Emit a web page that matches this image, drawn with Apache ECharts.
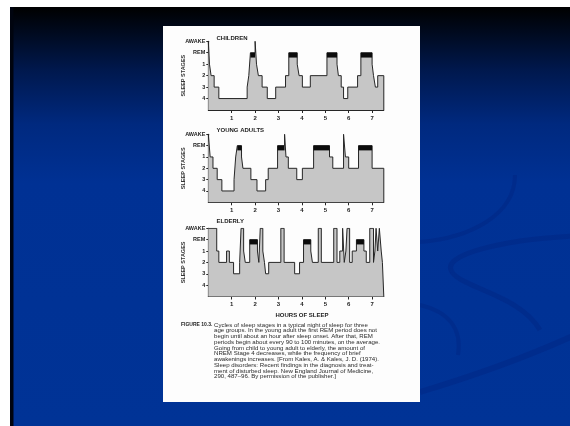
<!DOCTYPE html>
<html>
<head>
<meta charset="utf-8">
<script src="https://cdn.jsdelivr.net/npm/echarts@6/dist/echarts.min.js"></script>
<style>
html,body{margin:0;padding:0;background:#fff;}
#chart{width:570px;height:426px;}
</style>
</head>
<body>
<div id="chart"></div>
<script>
// ---- data ----
const stageLabels = ['AWAKE', 'REM', '1', '2', '3', '4'];
const xTickLabels = ['1', '2', '3', '4', '5', '6', '7'];
const hoursMax = 7.5;
const panelTitles = ['CHILDREN', 'YOUNG ADULTS', 'ELDERLY'];
const yAxisTitle = 'SLEEP STAGES';
const xAxisTitle = 'HOURS OF SLEEP';

const childrenTimes  = [0, 0.05, 0.12, 0.25, 0.45, 1.66, 1.73, 1.8, 2.0, 2.06, 2.14, 2.3, 2.52, 2.88, 3.3, 3.44, 3.8, 3.88, 4.02, 4.36, 5.07, 5.5, 5.56, 5.68, 5.78, 5.96, 6.38, 6.52, 7.0, 7.06, 7.14, 7.24];
const childrenStages = ['AWAKE', '1', '2', '3', '4', '3', '2', 'REM', 'AWAKE', '1', '2', '3', '4', '3', '2', 'REM', '1', '2', '3', '2', 'REM', '1', '2', '3', '4', '3', '2', 'REM', '1', '2', '3', '2'];

const youngTimes  = [0, 0.08, 0.2, 0.38, 0.58, 1.1, 1.17, 1.24, 1.42, 1.48, 1.82, 2.08, 2.45, 2.56, 2.96, 3.26, 3.32, 3.42, 3.78, 4.02, 4.5, 5.18, 5.32, 5.78, 5.86, 6.0, 6.42, 7.0];
const youngStages = ['AWAKE', '1', '2', '3', '4', '3', '1', 'REM', '1', '2', '3', '4', '3', '2', 'REM', 'AWAKE', '1', '2', '3', '2', 'REM', '1', '2', 'AWAKE', '1', '2', 'REM', '2'];

const elderlyTimes  = [0, 0.36, 0.45, 0.78, 0.9, 1.08, 1.34, 1.4, 1.51, 1.58, 1.77, 2.1, 2.16, 2.22, 2.33, 2.4, 2.45, 2.58, 3.1, 3.24, 3.69, 3.9, 4.07, 4.38, 4.45, 4.7, 4.83, 5.36, 5.5, 5.62, 5.74, 5.81, 5.88, 5.93, 6.04, 6.15, 6.33, 6.65, 6.75, 6.9, 7.06, 7.12, 7.17, 7.24, 7.31, 7.39, 7.44];
const elderlyStages = ['AWAKE', '1', '2', '1', '2', '3', '2', 'AWAKE', '1', '2', 'REM', '1', '2', 'AWAKE', '1', '2', '3', '2', 'AWAKE', '2', '3', '2', 'REM', '1', '2', 'AWAKE', '2', 'AWAKE', '2', '1', 'AWAKE', '2', '1', 'AWAKE', '2', '1', 'REM', '1', '2', 'AWAKE', '2', '1', 'AWAKE', '1', 'AWAKE', '1', '2'];

const captionLabel = 'FIGURE 10.3.';
const captionLines = [
  'Cycles of sleep stages in a typical night of sleep for three',
  'age groups. In the young adult the first REM period does not',
  'begin until about an hour after sleep onset. After that, REM',
  'periods begin about every 90 to 100 minutes, on the average.',
  'Going from child to young adult to elderly, the amount of',
  'NREM Stage 4 decreases, while the frequency of brief',
  'awakenings increases. [From Kales, A. & Kales, J. D. (1974).',
  'Sleep disorders: Recent findings in the diagnosis and treat-',
  'ment of disturbed sleep. New England Journal of Medicine,',
  '290, 487\u201396. By permission of the publisher.]'
];

// ---- helpers ----
const NLEV = stageLabels.length;          // baseline = 0, AWAKE = 6
const levelOf = s => NLEV - stageLabels.indexOf(s);
// hypnogram outline: hold each stage until the next change, then jump vertically
function buildLine(times, stages) {
  const pts = [];
  times.forEach((t, i) => {
    if (i > 0) pts.push([t, levelOf(stages[i - 1])]);
    pts.push([t, levelOf(stages[i])]);
  });
  pts.push([hoursMax, levelOf(stages[stages.length - 1])]);
  pts.push([hoursMax, 0]);
  return pts;
}
function remIntervals(times, stages) {
  const out = [];
  stages.forEach((s, i) => {
    if (s === 'REM') out.push([times[i], i + 1 < times.length ? times[i + 1] : hoursMax]);
  });
  return out;
}

const panels = [
  { times: childrenTimes, stages: childrenStages, top: 41.3, height: 68.7 },
  { times: youngTimes, stages: youngStages, top: 134.3, height: 68 },
  { times: elderlyTimes, stages: elderlyStages, top: 228.3, height: 68.2 }
];
const gridLeft = 208.3, gridWidth = 175.5;
const FONT = 'Liberation Sans';
const ink = '#262626';

const grids = [], xAxes = [], yAxes = [], series = [];
panels.forEach((p, k) => {
  grids.push({ left: gridLeft, top: p.top, width: gridWidth, height: p.height });
  xAxes.push({
    type: 'value', gridIndex: k, min: 0, max: hoursMax, interval: 1,
    axisLine: { show: true, lineStyle: { color: ink, width: 1 } },
    axisTick: { show: true, length: 3, lineStyle: { color: ink }, customValues: xTickLabels.map(Number) },
    axisLabel: { fontFamily: FONT, fontWeight: 'bold', fontSize: 6, color: '#222', margin: 5,
                 customValues: xTickLabels.map(Number) },
    splitLine: { show: false }
  });
  yAxes.push({
    type: 'value', gridIndex: k, min: 0, max: NLEV, interval: 1,
    name: yAxisTitle, nameLocation: 'middle', nameRotate: 90, nameGap: 22, nameMoveOverlap: false,
    nameTextStyle: { fontFamily: FONT, fontWeight: 'bold', fontSize: 5.5, color: '#333' },
    axisLine: { show: true, lineStyle: { color: ink, width: 1.2 } },
    axisTick: { show: true, length: 2, lineStyle: { color: ink }, customValues: stageLabels.map(levelOf) },
    axisLabel: { fontFamily: FONT, fontWeight: 'bold', fontSize: 5.5, color: '#222', margin: 3,
                 customValues: stageLabels.map(levelOf),
                 formatter: v => stageLabels[NLEV - v] },
    splitLine: { show: false }
  });
  series.push({
    type: 'line', xAxisIndex: k, yAxisIndex: k, showSymbol: false, silent: true,
    data: buildLine(p.times, p.stages),
    lineStyle: { color: ink, width: 1 },
    areaStyle: { color: '#c6c6c6', opacity: 1, origin: 'start' },
    z: 2
  });
  const remLevel = levelOf('REM');
  series.push({
    type: 'custom', xAxisIndex: k, yAxisIndex: k, silent: true, z: 3,
    data: remIntervals(p.times, p.stages),
    renderItem: (params, api) => {
      const a = api.coord([api.value(0), remLevel]);
      const b = api.coord([api.value(1), remLevel - 0.42]);
      return { type: 'rect', shape: { x: a[0], y: a[1], width: b[0] - a[0], height: b[1] - a[1] },
               style: { fill: '#0c0c0c' } };
    }
  });
});

// ---- background / decoration ----
const swoosh = 'rgba(0,28,115,0.26)';
const bg = [
  { type: 'rect', z: -20, shape: { x: 10, y: 7, width: 560, height: 419 },
    style: { fill: new echarts.graphic.LinearGradient(0, 0, 0, 1, [
      { offset: 0, color: '#000000' },
      { offset: 0.05, color: '#000819' },
      { offset: 0.15, color: '#00184d' },
      { offset: 0.28, color: '#00297f' },
      { offset: 0.42, color: '#003194' },
      { offset: 1, color: '#003396' }
    ]) } },
  { type: 'rect', z: -19, shape: { x: 10, y: 7, width: 3.5, height: 419 }, style: { fill: '#00040f' } },
  // faint swooshes
  { type: 'bezierCurve', z: -18, shape: { x1: 515, y1: 175, cpx1: 515, cpy1: 215, cpx2: 470, cpy2: 238, x2: 420, y2: 242 },
    style: { stroke: swoosh, lineWidth: 4, fill: null } },
  { type: 'bezierCurve', z: -18, shape: { x1: 575, y1: 236, cpx1: 500, cpy1: 240, cpx2: 440, cpy2: 255, x2: 452, y2: 272 },
    style: { stroke: swoosh, lineWidth: 5, fill: null } },
  { type: 'bezierCurve', z: -18, shape: { x1: 452, y1: 272, cpx1: 462, cpy1: 288, cpx2: 520, cpy2: 295, x2: 540, y2: 330 },
    style: { stroke: swoosh, lineWidth: 5, fill: null } },
  { type: 'bezierCurve', z: -18, shape: { x1: 420, y1: 305, cpx1: 450, cpy1: 312, cpx2: 462, cpy2: 330, x2: 458, y2: 355 },
    style: { stroke: swoosh, lineWidth: 4, fill: null } },
  { type: 'bezierCurve', z: -18, shape: { x1: 420, y1: 392, cpx1: 460, cpy1: 380, cpx2: 520, cpy2: 360, x2: 575, y2: 335 },
    style: { stroke: swoosh, lineWidth: 6, fill: null } },
  // paper
  { type: 'rect', z: -15, shape: { x: 163, y: 26, width: 257, height: 376 }, style: { fill: '#fdfdfd' } }
];

const texts = [];
const titleY = [38, 130.5, 221.5];
panelTitles.forEach((t, k) => {
  texts.push({ type: 'text', z: 50, x: 216.5, y: titleY[k],
    style: { text: t, fontFamily: FONT, fontWeight: 'bold', fontSize: 6, fill: '#222', verticalAlign: 'middle' } });
});
texts.push({ type: 'text', z: 50, x: 302, y: 315,
  style: { text: xAxisTitle, fontFamily: FONT, fontWeight: 'bold', fontSize: 6, fill: '#222', align: 'center', verticalAlign: 'middle' } });
texts.push({ type: 'text', z: 50, x: 181, y: 325,
  style: { text: captionLabel, fontFamily: FONT, fontWeight: 'bold', fontSize: 5, fill: '#222', verticalAlign: 'middle' } });
captionLines.forEach((line, i) => {
  texts.push({ type: 'text', z: 50, x: 214, y: 325 + i * 5.74,
    style: { text: line, fontFamily: FONT, fontSize: 6.1, fill: '#2a2a2a', verticalAlign: 'middle' } });
});

const chart = echarts.init(document.getElementById('chart'), null, { renderer: 'canvas' });
chart.setOption({
  animation: false,
  backgroundColor: '#ffffff',
  grid: grids,
  xAxis: xAxes,
  yAxis: yAxes,
  series: series,
  graphic: { elements: bg.concat(texts) }
});
</script>
</body>
</html>
